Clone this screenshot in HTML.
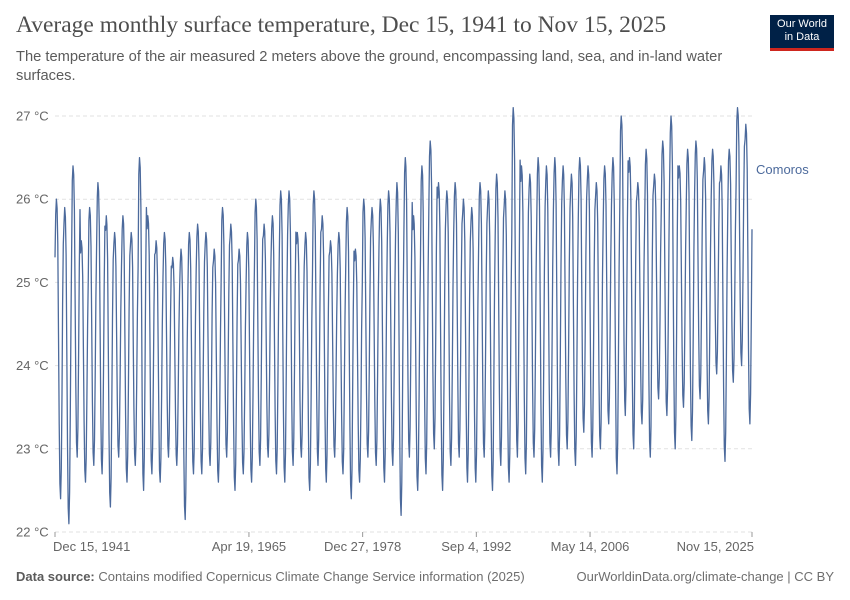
<!DOCTYPE html>
<html><head><meta charset="utf-8"><style>
body{margin:0;background:#fff;font-family:"Liberation Sans",sans-serif;}
#wrap{position:relative;width:850px;height:600px;overflow:hidden;}
.t{position:absolute;white-space:nowrap;}
</style></head><body>
<div id="wrap">
<div class="t" style="left:16px;top:12px;font-family:'Liberation Serif',serif;font-size:23.5px;color:#4e4e4e;">Average monthly surface temperature, Dec 15, 1941 to Nov 15, 2025</div>
<div class="t" style="left:16px;top:48px;font-size:14.7px;color:#5b5b5b;line-height:19px;white-space:normal;width:740px;">The temperature of the air measured 2 meters above the ground, encompassing land, sea, and in-land water surfaces.</div>
<div style="position:absolute;left:770px;top:15px;width:64px;height:36px;background:#002147;border-bottom:3px solid #ce261e;color:#fff;font-size:11px;line-height:13px;text-align:center;padding-top:3px;box-sizing:border-box;">Our World<br>in Data</div>
<svg id="svg" width="850" height="600" style="position:absolute;left:0;top:0"></svg>
<div class="t" style="left:16px;top:569px;font-size:13px;color:#6e6e6e;"><b style="color:#5b5b5b;font-weight:bold">Data source:</b> Contains modified Copernicus Climate Change Service information (2025)</div>
<div class="t" style="right:16px;top:569px;font-size:13px;color:#6e6e6e;">OurWorldinData.org/climate-change | CC BY</div>
</div>
<script>
const startYear = 1942;
const yearPeaks = [26.0,25.9,26.4,25.5,25.9,26.2,25.8,25.6,25.8,25.6,26.5,25.8,25.5,25.6,25.3,25.4,25.6,25.7,25.6,25.4,25.9,25.7,25.4,25.6,26.0,25.7,25.8,26.1,26.1,25.6,25.6,26.1,25.8,25.5,25.6,25.9,25.4,26.0,25.9,26.0,26.1,26.2,26.5,25.8,26.4,26.7,26.2,26.1,26.2,26.0,25.9,26.2,26.1,26.3,26.1,27.1,26.4,26.3,26.5,26.4,26.5,26.4,26.3,26.5,26.4,26.2,26.4,26.5,27.0,26.5,26.2,26.6,26.3,26.7,27.0,26.4,26.6,26.7,26.5,26.6,26.4,26.6,27.1,26.9];
const yearTroughs = [22.4,22.1,22.9,22.6,22.8,22.7,22.3,22.9,22.6,22.8,22.5,22.7,22.6,22.9,22.8,22.15,22.7,22.7,22.8,22.6,22.9,22.5,22.7,22.6,22.8,22.9,22.7,22.6,22.8,22.9,22.5,22.8,22.6,22.9,22.7,22.4,22.6,22.9,22.8,22.6,22.8,22.2,22.9,22.5,22.7,23.0,22.5,22.8,22.9,22.6,22.6,22.9,22.5,22.8,22.6,22.9,22.7,22.9,22.6,22.9,22.8,23.0,22.8,23.2,22.9,23.0,23.3,22.7,23.4,23.0,23.3,22.9,23.6,23.4,23.0,23.5,23.1,23.6,23.3,23.9,22.85,23.8,24.0,23.3];
const monthShape = [0.95,1.0,0.97,0.85,0.55,0.25,0.05,0.0,0.1,0.35,0.65,0.85];
const firstValue = 25.3;
const yTicks = [22,23,24,25,26,27];
const xTickLabels = ["Dec 15, 1941","Apr 19, 1965","Dec 27, 1978","Sep 4, 1992","May 14, 2006","Nov 15, 2025"];
const xTickTimes = [1941.95,1965.3,1978.99,1992.68,2006.37,2025.87];

const X0=55,X1=752,T0=1941.95,T1=2025.87;
const xs=t=>X0+(t-T0)*(X1-X0)/(T1-T0);
const ys=v=>532-(v-22)*83.2;
const svg=document.getElementById('svg');
const NS='http://www.w3.org/2000/svg';
function mk(tag,a){const e=document.createElementNS(NS,tag);for(const k in a)e.setAttribute(k,a[k]);svg.appendChild(e);return e;}
yTicks.forEach(v=>{
  const l=mk('line',{x1:X0,x2:X1,y1:ys(v),y2:ys(v),stroke:'#e2e2e2','stroke-dasharray':'4,3'});
  
  
  const t=mk('text',{x:16,y:ys(v)+4.5,'font-size':13,fill:'#666','font-family':'Liberation Sans, sans-serif'});
  t.textContent=v+' °C';
  
  
});
xTickLabels.forEach((lab,i)=>{
  const x=xs(xTickTimes[i]);
  const tk=mk('line',{x1:x,x2:x,y1:532,y2:537,stroke:'#999'});
  
  
  const anchor=i==0?'start':(i==xTickLabels.length-1?'end':'middle');
  const t=mk('text',{x:i==0?x-2:(i==xTickLabels.length-1?x+2:x),y:551,'font-size':13,fill:'#666','text-anchor':anchor,'font-family':'Liberation Sans, sans-serif'});
  t.textContent=lab;
  
  
});
let pts=[[xs(T0),ys(firstValue)]];
for(let i=0;i<yearPeaks.length;i++){
  const yr=startYear+i;
  for(let m=0;m<12;m++){
    const t=yr+(m+0.45)/12;
    if(t>T1+0.01)break;
    const v=yearTroughs[i]+(yearPeaks[i]-yearTroughs[i])*monthShape[m];
    pts.push([xs(t),ys(v)]);
  }
}
const p=mk('polyline',{points:pts.map(q=>q[0].toFixed(1)+','+q[1].toFixed(1)).join(' '),fill:'none',stroke:'#4c6a9c','stroke-width':1.3,'stroke-linejoin':'round'});


const lt=mk('text',{x:756,y:174,'font-size':13,fill:'#4c6a9c','font-family':'Liberation Sans, sans-serif'});
lt.textContent='Comoros';


</script>
</body></html>
